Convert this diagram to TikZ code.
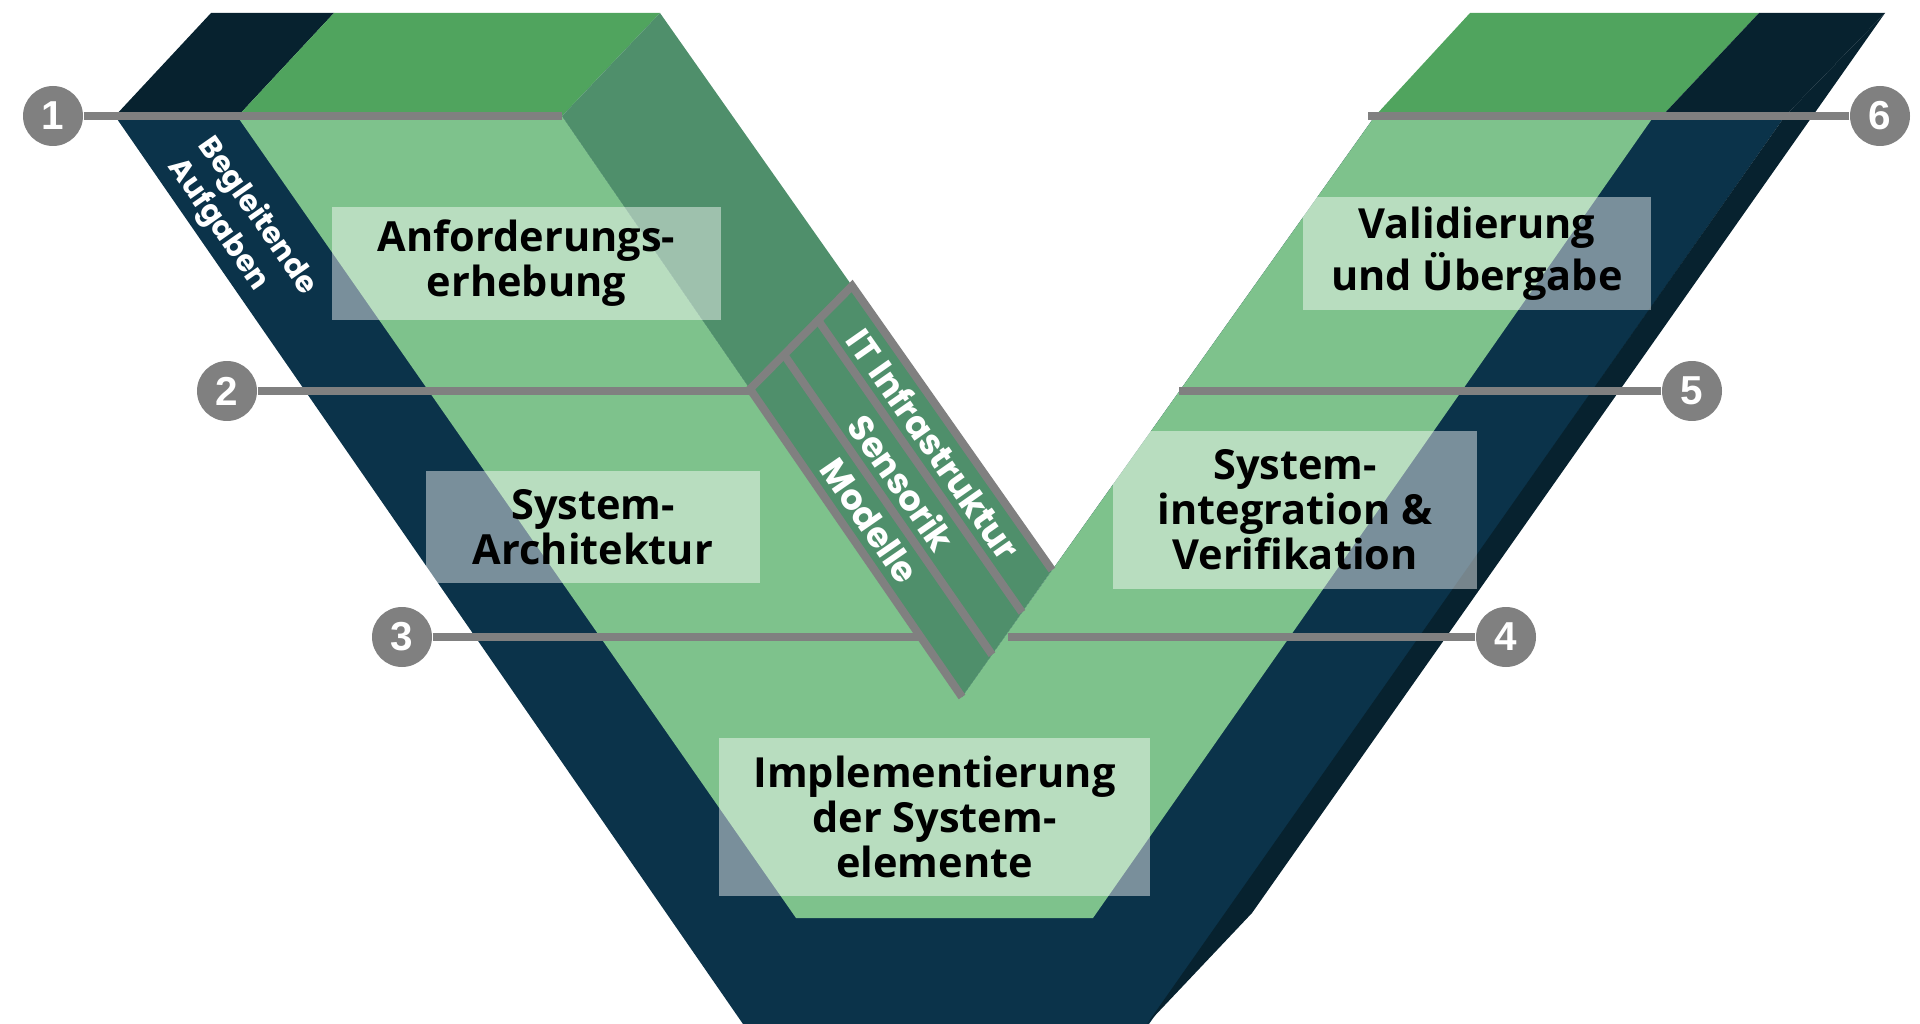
\documentclass[tikz,border=0pt]{standalone}
\usepackage{fontspec}
\setmainfont{Open Sans}
\newfontfamily\geofont{Poppins}
\newfontfamily\numfont{Liberation Sans}
\usetikzlibrary{calc}
\definecolor{navy}{HTML}{0B334A}
\definecolor{darknavy}{HTML}{07222F}
\definecolor{topgreen}{HTML}{50A45E}
\definecolor{lightgreen}{HTML}{7EC28C}
\definecolor{sidegreen}{HTML}{4F8F6B}
\definecolor{bargray}{HTML}{808080}

\begin{document}
\begin{tikzpicture}[x=0.1mm,y=-0.1mm,
    stepnum/.style={circle,fill=bargray,minimum size=6mm,inner sep=0pt,text=white,font=\numfont\bfseries\fontsize{11.5}{11.5}\selectfont},
    bar/.style={draw=bargray,line width=0.8mm},
    phase/.style={fill=white,fill opacity=0.45,text opacity=1,align=center,inner sep=0pt,font=\bfseries\fontsize{11.8}{12.8}\selectfont},
    striptext/.style={text=white,font=\geofont\bfseries\fontsize{10}{10}\selectfont}]
\useasboundingbox (0,0) rectangle (1920,1024);

% V body
\fill[navy] (115,116) -- (743,1024) -- (1149,1024) -- (1785,116) -- (1375,116) -- (962,697) -- (562,116) -- cycle;
\fill[lightgreen] (237,116) -- (796,918) -- (1093,918) -- (1654,116) -- (1375,116) -- (962,697) -- (562,116) -- cycle;

% top faces
\fill[darknavy] (211,13) -- (334,13) -- (238,116) -- (115,116) -- cycle;
\fill[topgreen] (334,13) -- (660,13) -- (562,116) -- (238,116) -- cycle;
\fill[topgreen] (1470,13) -- (1759,13) -- (1662,116) -- (1375,116) -- cycle;
\fill[darknavy] (1759,13) -- (1885,13) -- (1785,116) -- (1662,116) -- cycle;
\fill[darknavy] (1885,13) -- (1252,913) -- (1147,1024) -- (1785,116) -- cycle;

% side face with strips
\coordinate (A) at (562,116);
\coordinate (B) at (660,13);
\coordinate (C) at (1052,570);
\coordinate (D) at (962,697);
\fill[sidegreen] (A) -- (B) -- (C) -- (D) -- cycle;
\coordinate (P0) at ($(B)!0.49!(C)$);
\coordinate (Q0) at ($(A)!0.47!(D)$);
\draw[bar] (C) -- (P0) -- (Q0) -- (D);
\foreach \k in {1,2}
    \draw[bar] ($(P0)!\k/3!(Q0)$) -- ($(C)!\k/3!(D)$);
\foreach \k/\lbl in {0/IT Infrastruktur,1/Sensorik,2/Modelle}
    \path ($(P0)!{(\k+0.5)/3}!(Q0)$) -- ($(C)!{(\k+0.5)/3}!(D)$)
        node[striptext,sloped,pos=0.49] (s\k) {\lbl};

\node[text=white,font=\geofont\bfseries\fontsize{8.5}{10.5}\selectfont,rotate=-55,align=left] (side) at (242,227) {Begleitende\\Aufgaben};

% milestones
\node[stepnum] (n1) at (53,116) {1};
\node[stepnum] (n2) at (227,391) {2};
\node[stepnum] (n3) at (402,637) {3};
\node[stepnum] (n4) at (1506,637) {4};
\node[stepnum] (n5) at (1692,391) {5};
\node[stepnum] (n6) at (1880,116) {6};
\coordinate (e1) at (562,116);
\coordinate (e2) at (750,391);
\coordinate (e3) at (920,637);
\coordinate (e4) at (1008,637);
\coordinate (e5) at (1179,391);
\coordinate (e6) at (1368,116);
\foreach \i in {1,...,6}
    \draw[bar] (n\i) -- (e\i);

% phases
\node[phase,minimum width=38.9mm,minimum height=11.3mm] (anf) at (526.5,263.5) {Anforderungs-\\erhebung};
\node[phase,minimum width=33.4mm,minimum height=11.2mm] (arch) at (593,527) {System-\\Architektur};
\node[phase,minimum width=43.1mm,minimum height=15.8mm] (impl) at (934.5,817) {Implementierung\\der System-\\elemente};
\node[phase,minimum width=36.4mm,minimum height=15.8mm] (integ) at (1295,510) {System-\\integration \&\\Verifikation};
\node[phase,minimum width=34.8mm,minimum height=11.3mm] (valid) at (1477,253.5) {Validierung\\und Übergabe};
\end{tikzpicture}
\end{document}
